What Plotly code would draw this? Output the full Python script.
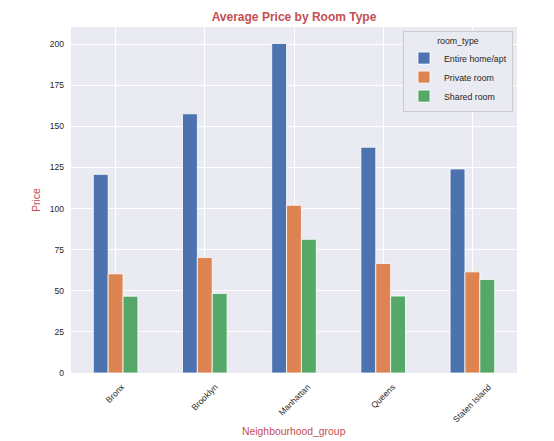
import plotly.graph_objects as go

# average price per neighbourhood group and room type
neighbourhoods = ["Bronx", "Brooklyn", "Manhattan", "Queens", "Staten Island"]
entire_home = [120.8, 157.6, 200.4, 137.3, 124.1]
private_room = [60.3, 70.2, 102.0, 66.6, 61.5]
shared_room = [46.7, 48.4, 81.3, 46.8, 56.9]
y_ticks = [0, 25, 50, 75, 100, 125, 150, 175, 200]

series = [
    ("Entire home/apt", entire_home, "#4c72b0"),
    ("Private room", private_room, "#dd8452"),
    ("Shared room", shared_room, "#55a868"),
]

red = "#c44e52"
font = "Liberation Sans, Arial, sans-serif"

fig = go.Figure()
for name, vals, col in series:
    fig.add_trace(go.Bar(
        x=neighbourhoods, y=vals, name=name,
        marker=dict(color=col, line=dict(color="white", width=0.8)),
    ))

# rotated category labels, centred under each group like matplotlib does
for cat in neighbourhoods:
    fig.add_annotation(
        x=cat, y=0, xref="x", yref="paper", text=cat, showarrow=False,
        textangle=-45, xanchor="center", yanchor="top", yshift=-6,
        font=dict(family=font, size=8.5, color="#262626"),
    )

fig.add_annotation(
    x=0.5, y=0, xref="paper", yref="paper", text="Neighbourhood_group",
    showarrow=False, xanchor="center", yanchor="top", yshift=-51,
    font=dict(family=font, size=10.4, color=red),
)

# page adds an 8px body margin, so the figure is 8px smaller each way
fig.update_layout(
    width=546, height=433,
    margin=dict(l=63, r=37, t=19, b=68),
    paper_bgcolor="white", plot_bgcolor="#eaeaf2",
    barmode="group", bargap=0.5, bargroupgap=0,
    font=dict(family=font, size=8.5, color="#262626"),
    title=dict(text="<b>Average Price by Room Type</b>", x=0.5, xref="paper",
               xanchor="center", y=0.979, yanchor="middle",
               font=dict(family=font, size=12, color=red)),
    legend=dict(
        title=dict(text="room_type", side="top center", font=dict(size=8.8)),
        x=0.991, y=0.988, xanchor="right", yanchor="top",
        bgcolor="#eaeaf2", bordercolor="#cccccc", borderwidth=1,
        font=dict(family=font, size=8.8, color="#262626"),
    ),
    showlegend=True,
)
fig.update_xaxes(showgrid=True, gridcolor="white", gridwidth=1,
                 showticklabels=False, ticks="", zeroline=False,
                 showline=False)
fig.update_yaxes(range=[0, 210.4], tickvals=y_ticks, showgrid=True,
                 gridcolor="white", gridwidth=1, zeroline=False,
                 ticks="", ticklabelstandoff=6,
                 title=dict(text="Price", standoff=7,
                            font=dict(family=font, size=10.4, color=red)))

fig.write_html("out.html")
